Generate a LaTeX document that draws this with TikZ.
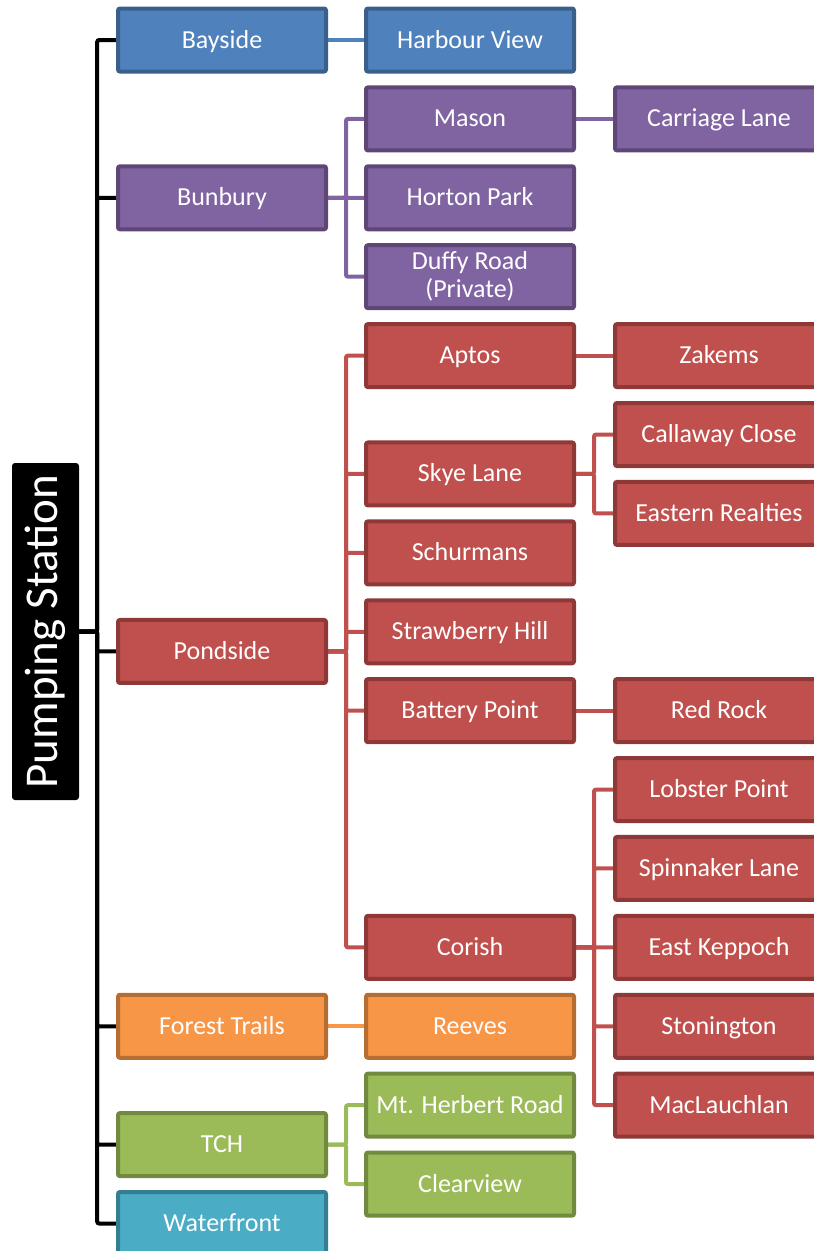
\documentclass[tikz,border=0pt]{standalone}
\usepackage{fontspec}
\setmainfont{Carlito}
\usetikzlibrary{backgrounds}
\definecolor{blueF}{HTML}{4F81BD}\definecolor{blueD}{HTML}{3A5F8B}
\definecolor{purF}{HTML}{8064A2}\definecolor{purD}{HTML}{5E4777}
\definecolor{redF}{HTML}{C0504D}\definecolor{redD}{HTML}{8E3937}
\definecolor{orF}{HTML}{F79646}\definecolor{orD}{HTML}{B66D31}
\definecolor{grF}{HTML}{9BBB59}\definecolor{grD}{HTML}{718A3F}
\definecolor{aqF}{HTML}{4BACC6}\definecolor{aqD}{HTML}{357D91}
\begin{document}
\begin{tikzpicture}[x=1pt,y=-1pt,
  boxbase/.style={draw, line width=4pt, rounded corners=2pt, minimum width=208pt, minimum height=63pt,
    inner sep=0pt, text=white, font=\fontsize{26}{28}\selectfont, align=center},
  box/.style={boxbase, text height=20pt, text depth=4pt},
  bbox/.style={box, fill=blueF, draw=blueD},
  pbox/.style={box, fill=purF, draw=purD},
  rbox/.style={box, fill=redF, draw=redD},
  obox/.style={box, fill=orF, draw=orD},
  gbox/.style={box, fill=grF, draw=grD},
  abox/.style={box, fill=aqF, draw=aqD},
  link/.style={line width=4pt, rounded corners=2pt},
  rootlink/.style={link, black}
]
\useasboundingbox (0,0) rectangle (814,1251);
\clip (0,0) rectangle (814,1251);
\def\P{78.9}
% root
\node[fill=black, rounded corners=3pt, minimum width=67pt, minimum height=337pt, inner sep=0pt, text=white]
  (root) at (45.5,631.5) {\rotatebox{90}{\fontsize{47}{50}\selectfont Pumping Station}};
% level 1
\node[bbox] (bay) at (222,{40+\P*0}) {Bayside};
\node[pbox] (bun) at (222,{40+\P*2}) {Bunbury};
\node[rbox] (pond) at (222,{40+\P*7.75}) {Pondside};
\node[obox] (forest) at (222,{40+\P*12.5}) {Forest Trails};
\node[gbox] (tch) at (222,{40+\P*14}) {TCH};
\node[abox] (water) at (222,{40+\P*15}) {Waterfront};
% level 2
\node[bbox] (harb) at (470,{40+\P*0}) {Harbour View};
\node[pbox] (mason) at (470,{40+\P*1}) {Mason};
\node[pbox] (horton) at (470,{40+\P*2}) {Horton Park};
\node[boxbase, fill=purF, draw=purD] (duffy) at (470,{40+\P*3}) {Duffy Road\\(Private)};
\node[rbox] (aptos) at (470,{40+\P*4}) {Aptos};
\node[rbox] (skye) at (470,{40+\P*5.5}) {Skye Lane};
\node[rbox] (schur) at (470,{40+\P*6.5}) {Schurmans};
\node[rbox] (straw) at (470,{40+\P*7.5}) {Strawberry Hill};
\node[rbox] (batt) at (470,{40+\P*8.5}) {Battery Point};
\node[rbox] (corish) at (470,{40+\P*11.5}) {Corish};
\node[obox] (reeves) at (470,{40+\P*12.5}) {Reeves};
\node[gbox] (mth) at (470,{40+\P*13.5}) {Mt. Herbert Road};
\node[gbox] (clear) at (470,{40+\P*14.5}) {Clearview};
% level 3
\node[pbox] (carr) at (719,{40+\P*1}) {Carriage Lane};
\node[rbox] (zak) at (719,{40+\P*4}) {Zakems};
\node[rbox] (call) at (719,{40+\P*5}) {Callaway Close};
\node[rbox] (east) at (719,{40+\P*6}) {Eastern Realties};
\node[rbox] (red) at (719,{40+\P*8.5}) {Red Rock};
\node[rbox] (lob) at (719,{40+\P*9.5}) {Lobster Point};
\node[rbox] (spin) at (719,{40+\P*10.5}) {Spinnaker Lane};
\node[rbox] (ek) at (719,{40+\P*11.5}) {East Keppoch};
\node[rbox] (ston) at (719,{40+\P*12.5}) {Stonington};
\node[rbox] (mac) at (719,{40+\P*13.5}) {MacLauchlan};
\begin{scope}[on background layer]
  \foreach \c in {bay,bun,pond,forest,tch,water}
    \draw[rootlink] (root.east) -- ([xshift=18pt]root.east) |- (\c.west);
  \draw[link, blueF] (bay.east) -- (harb.west);
  \foreach \c in {mason,horton,duffy}
    \draw[link, purF] (bun.east) -- ([xshift=18pt]bun.east) |- (\c.west);
  \draw[link, purF] (mason.east) -- (carr.west);
  \foreach \c in {aptos,skye,schur,straw,batt,corish}
    \draw[link, redF] (pond.east) -- ([xshift=18pt]pond.east) |- (\c.west);
  \draw[link, redF] (aptos.east) -- (zak.west);
  \foreach \c in {call,east}
    \draw[link, redF] (skye.east) -- ([xshift=18pt]skye.east) |- (\c.west);
  \draw[link, redF] (batt.east) -- (red.west);
  \foreach \c in {lob,spin,ek,ston,mac}
    \draw[link, redF] (corish.east) -- ([xshift=18pt]corish.east) |- (\c.west);
  \draw[link, orF] (forest.east) -- (reeves.west);
  \foreach \c in {mth,clear}
    \draw[link, grF] (tch.east) -- ([xshift=18pt]tch.east) |- (\c.west);
\end{scope}
\end{tikzpicture}
\end{document}
